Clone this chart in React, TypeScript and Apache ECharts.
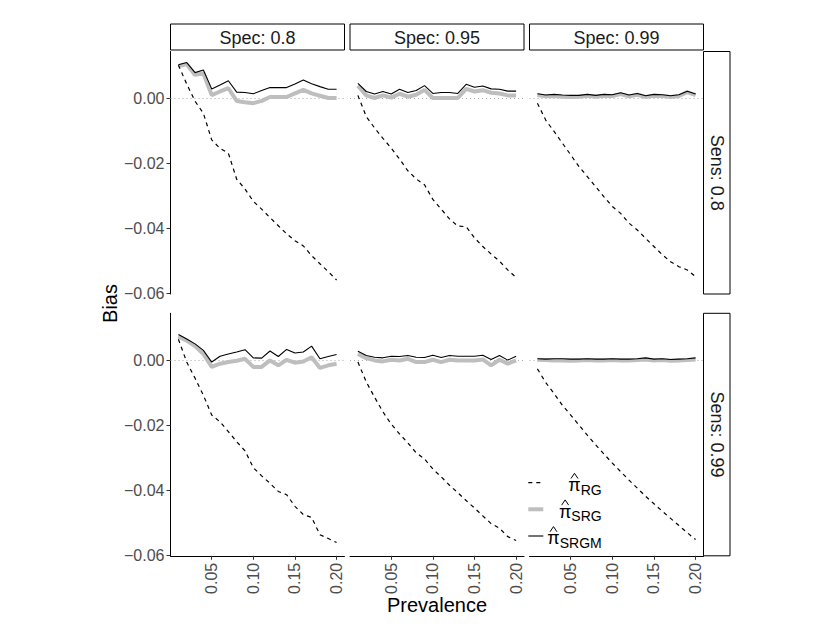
import React, { useEffect, useRef } from "react";
import * as echarts from "echarts";

// ---------- data ----------
const prevalence = [0.01, 0.02, 0.03, 0.04, 0.05, 0.06, 0.07, 0.08, 0.09, 0.1, 0.11, 0.12, 0.13, 0.14, 0.15, 0.16, 0.17, 0.18, 0.19, 0.2];
const specLabels = ["Spec: 0.8", "Spec: 0.95", "Spec: 0.99"];
const sensLabels = ["Sens: 0.8", "Sens: 0.99"];
const xTicks = [0.05, 0.1, 0.15, 0.2];
const yTicks = [-0.06, -0.04, -0.02, 0];
const methodNames = ["RG", "SRG", "SRGM"];

// Sens 0.8
const rg_se80_sp80 = [0.0103, 0.0045, -0.0008, -0.0045, -0.0127, -0.0153, -0.0168, -0.0248, -0.0278, -0.0316, -0.034, -0.0366, -0.0391, -0.0416, -0.0437, -0.0453, -0.0483, -0.0508, -0.0532, -0.0558];
const srg_se80_sp80 = [0.01, 0.0106, 0.0073, 0.0078, 0.0011, 0.0022, 0.0032, -0.0007, -0.0011, -0.0014, -0.0007, 0.0005, 0.0005, 0.0005, 0.0016, 0.0027, 0.0016, 0.0009, 0.0002, 0.0002];
const srgm_se80_sp80 = [0.0104, 0.0111, 0.008, 0.0088, 0.003, 0.0042, 0.0055, 0.002, 0.0019, 0.0015, 0.0025, 0.0034, 0.0034, 0.0034, 0.0045, 0.0057, 0.0046, 0.0037, 0.0029, 0.0029];

const rg_se80_sp95 = [0.001, -0.0055, -0.009, -0.0122, -0.0152, -0.0186, -0.0222, -0.0247, -0.0265, -0.031, -0.034, -0.037, -0.0392, -0.0394, -0.0428, -0.0455, -0.0478, -0.05, -0.0527, -0.055];
const srg_se80_sp95 = [0.004, 0.001, 0.0002, 0.001, 0.0003, 0.0015, 0.0006, 0.0012, 0.0027, 0.0002, 0.0002, 0.0002, 0.0002, 0.003, 0.0022, 0.0026, 0.0018, 0.0016, 0.001, 0.001];
const srgm_se80_sp95 = [0.0047, 0.0022, 0.0014, 0.0022, 0.0014, 0.0029, 0.0019, 0.0025, 0.004, 0.0016, 0.0019, 0.0019, 0.0016, 0.0044, 0.0035, 0.0039, 0.003, 0.0029, 0.0023, 0.0023];

const rg_se80_sp99 = [-0.0014, -0.0066, -0.0101, -0.0137, -0.0173, -0.0209, -0.024, -0.0271, -0.0302, -0.0332, -0.0353, -0.0383, -0.0404, -0.043, -0.0455, -0.048, -0.0502, -0.0517, -0.0527, -0.0548];
const srg_se80_sp99 = [0.0011, 0.0007, 0.0008, 0.0006, 0.0005, 0.0006, 0.0009, 0.0006, 0.0009, 0.0008, 0.0014, 0.0007, 0.0012, 0.0005, 0.0009, 0.0008, 0.0005, 0.0008, 0.002, 0.0011];
const srgm_se80_sp99 = [0.0015, 0.0011, 0.0013, 0.0011, 0.001, 0.001, 0.0013, 0.001, 0.0013, 0.0012, 0.0018, 0.0011, 0.0016, 0.0009, 0.0013, 0.0012, 0.0009, 0.0012, 0.0023, 0.0014];

// Sens 0.99
const rg_se99_sp80 = [0.0065, -0.0005, -0.0055, -0.0107, -0.0168, -0.0189, -0.0219, -0.025, -0.0278, -0.033, -0.0355, -0.0378, -0.0403, -0.0413, -0.0449, -0.0474, -0.0483, -0.0536, -0.0548, -0.056];
const srg_se99_sp80 = [0.0074, 0.0061, 0.0044, 0.002, -0.002, -0.001, -0.0005, -0.0001, 0.0005, -0.002, -0.002, 0.0, -0.0015, 0.0002, -0.0007, -0.0003, 0.001, -0.0023, -0.0015, -0.001];
const srgm_se99_sp80 = [0.008, 0.0066, 0.0051, 0.0031, -0.0005, 0.0013, 0.002, 0.0026, 0.0033, 0.0008, 0.0007, 0.0029, 0.0012, 0.0034, 0.0023, 0.0026, 0.0044, 0.0005, 0.0012, 0.0018];

const rg_se99_sp95 = [-0.0005, -0.0066, -0.0113, -0.0158, -0.0196, -0.0226, -0.0254, -0.0284, -0.0303, -0.0334, -0.0358, -0.0384, -0.0407, -0.0431, -0.0454, -0.0478, -0.0502, -0.0516, -0.0542, -0.0554];
const srg_se99_sp95 = [0.002, 0.0007, 0.0, -0.0003, 0.0002, 0.0, 0.0005, -0.0005, -0.0005, 0.0002, -0.0005, 0.0002, 0.0, 0.0, 0.0, 0.0003, -0.0015, 0.0002, -0.001, 0.0];
const srgm_se99_sp95 = [0.0028, 0.0015, 0.001, 0.0008, 0.0013, 0.0012, 0.0015, 0.001, 0.0009, 0.0016, 0.0009, 0.0015, 0.0013, 0.0013, 0.0013, 0.0016, 0.0003, 0.0015, 0.0001, 0.0013];

const rg_se99_sp99 = [-0.0026, -0.0068, -0.0102, -0.0138, -0.0168, -0.0199, -0.023, -0.026, -0.0288, -0.0316, -0.0342, -0.0368, -0.0393, -0.0418, -0.0441, -0.0464, -0.0486, -0.0508, -0.053, -0.0551];
const srg_se99_sp99 = [0.0002, 0.0001, 0.0, 0.0, -0.0001, 0.0, 0.0001, 0.0, 0.0, 0.0001, 0.0, 0.0, 0.0001, 0.0003, 0.0, 0.0001, -0.0001, 0.0, 0.0001, 0.0003];
const srgm_se99_sp99 = [0.0005, 0.0004, 0.0005, 0.0005, 0.0004, 0.0004, 0.0005, 0.0004, 0.0004, 0.0005, 0.0004, 0.0004, 0.0005, 0.0008, 0.0004, 0.0005, 0.0003, 0.0004, 0.0005, 0.0008];

const panels = [
  { row: 0, col: 0, rg: rg_se80_sp80, srg: srg_se80_sp80, srgm: srgm_se80_sp80 },
  { row: 0, col: 1, rg: rg_se80_sp95, srg: srg_se80_sp95, srgm: srgm_se80_sp95 },
  { row: 0, col: 2, rg: rg_se80_sp99, srg: srg_se80_sp99, srgm: srgm_se80_sp99 },
  { row: 1, col: 0, rg: rg_se99_sp80, srg: srg_se99_sp80, srgm: srgm_se99_sp80 },
  { row: 1, col: 1, rg: rg_se99_sp95, srg: srg_se99_sp95, srgm: srgm_se99_sp95 },
  { row: 1, col: 2, rg: rg_se99_sp99, srg: srg_se99_sp99, srgm: srgm_se99_sp99 },
];

// ---------- layout ----------
const FONT = '"Liberation Sans", Arial, Helvetica, sans-serif';
const COL_LEFT = [170.5, 350, 529.5];
const PANEL_W = 174;
const ROW_TOP = [51.5, 313.3];
const PANEL_H = 242.5;
const X_MIN = 0.0005;
const X_MAX = 0.2095;
const Y_MIN = -0.0601;
const Y_MAX = 0.0145;

function measure(text: string, size: number): number {
  try {
    const c = document.createElement("canvas").getContext("2d");
    if (c) {
      c.font = `${size}px "Liberation Sans", Arial, sans-serif`;
      return c.measureText(text).width;
    }
  } catch (e) {}
  return text.length * size * 0.68;
}

function fmtY(v: number): string {
  const s = Math.abs(v).toFixed(2);
  return v < -1e-9 ? "\u2212" + s : s;
}

function buildOption() {
  const grid: any[] = [];
  const xAxis: any[] = [];
  const yAxis: any[] = [];
  const series: any[] = [];

  panels.forEach((p, k) => {
    grid.push({
      left: COL_LEFT[p.col],
      top: ROW_TOP[p.row],
      width: PANEL_W,
      height: PANEL_H,
      containLabel: false,
      outerBoundsMode: "none",
    });
    const showX = p.row === 1;
    const showY = p.col === 0;
    xAxis.push({
      type: "value",
      gridIndex: k,
      min: X_MIN,
      max: X_MAX,
      show: showX,
      splitLine: { show: false },
      axisLine: { show: showX, onZero: false, lineStyle: { color: "#000", width: 1 } },
      axisTick: { show: showX, length: 4, customValues: xTicks, lineStyle: { color: "#333", width: 1 } },
      axisLabel: {
        show: showX,
        customValues: xTicks,
        rotate: 90,
        margin: 7,
        color: "#4d4d4d",
        fontSize: 16,
        fontFamily: FONT,
        formatter: (v: number) => v.toFixed(2),
      },
    });
    yAxis.push({
      type: "value",
      gridIndex: k,
      min: Y_MIN,
      max: Y_MAX,
      show: showY,
      splitLine: { show: false },
      axisLine: { show: showY, onZero: false, lineStyle: { color: "#000", width: 1 } },
      axisTick: { show: showY, length: 4, customValues: yTicks, lineStyle: { color: "#333", width: 1 } },
      axisLabel: {
        show: showY,
        customValues: yTicks,
        margin: 6,
        color: "#4d4d4d",
        fontSize: 16,
        fontFamily: FONT,
        formatter: (v: number) => fmtY(v),
      },
    });

    const toData = (arr: number[]) => prevalence.map((x, i) => [x, arr[i]]);
    series.push({
      name: methodNames[0],
      type: "line",
      xAxisIndex: k,
      yAxisIndex: k,
      data: toData(p.rg),
      symbol: "none",
      showSymbol: false,
      z: 3,
      lineStyle: { color: "#000", width: 1.2, type: [4, 4] },
      markLine: {
        silent: true,
        symbol: ["none", "none"],
        label: { show: false },
        lineStyle: { color: "#aaaaaa", width: 1.1, type: [1, 3] },
        data: [{ yAxis: 0 }],
        z: 1,
      },
    });
    series.push({
      name: methodNames[1],
      type: "line",
      xAxisIndex: k,
      yAxisIndex: k,
      data: toData(p.srg),
      symbol: "none",
      showSymbol: false,
      z: 2,
      lineStyle: { color: "#bebebe", width: 4 },
    });
    series.push({
      name: methodNames[2],
      type: "line",
      xAxisIndex: k,
      yAxisIndex: k,
      data: toData(p.srgm),
      symbol: "none",
      showSymbol: false,
      z: 4,
      lineStyle: { color: "#000", width: 1.1 },
    });
  });

  const graphic: any[] = [];
  // top strips
  specLabels.forEach((lab, c) => {
    graphic.push({
      type: "rect",
      shape: { x: COL_LEFT[c], y: 24, width: PANEL_W, height: 26 },
      style: { fill: "#fff", stroke: "#000", lineWidth: 1 },
    });
    graphic.push({
      type: "text",
      x: COL_LEFT[c] + PANEL_W / 2,
      y: 37.5,
      style: {
        text: lab, fontSize: 18, fontFamily: FONT, fill: "#1a1a1a",
        align: "center", verticalAlign: "middle", textAlign: "center", textVerticalAlign: "middle",
      },
    });
  });
  // right strips
  const stripX = COL_LEFT[2] + PANEL_W;
  sensLabels.forEach((lab, r) => {
    graphic.push({
      type: "rect",
      shape: { x: stripX, y: ROW_TOP[r], width: 26.5, height: PANEL_H },
      style: { fill: "#fff", stroke: "#000", lineWidth: 1 },
    });
    graphic.push({
      type: "text",
      x: stripX + 13.5,
      y: ROW_TOP[r] + PANEL_H / 2,
      rotation: -Math.PI / 2,
      style: {
        text: lab, fontSize: 18, fontFamily: FONT, fill: "#1a1a1a",
        align: "center", verticalAlign: "middle", textAlign: "center", textVerticalAlign: "middle",
      },
    });
  });
  // axis titles
  graphic.push({
    type: "text",
    x: (COL_LEFT[0] + COL_LEFT[2] + PANEL_W) / 2,
    y: 605,
    style: {
      text: "Prevalence", fontSize: 20, fontFamily: FONT, fill: "#000",
      align: "center", verticalAlign: "middle", textAlign: "center", textVerticalAlign: "middle",
    },
  });
  graphic.push({
    type: "text",
    x: 110,
    y: 303.5,
    rotation: Math.PI / 2,
    style: {
      text: "Bias", fontSize: 20, fontFamily: FONT, fill: "#000",
      align: "center", verticalAlign: "middle", textAlign: "center", textVerticalAlign: "middle",
    },
  });

  // legend
  const keyX1 = 528.3;
  const keyX2 = 543.3;
  const keyYs = [482.7, 509.3, 536];
  const keyStyles = [
    { stroke: "#000", lineWidth: 1.2, lineDash: [4, 4] },
    { stroke: "#bebebe", lineWidth: 4 },
    { stroke: "#000", lineWidth: 1.1 },
  ];
  const labelRight = 601.7;
  methodNames.forEach((nm, i) => {
    const ky = keyYs[i];
    graphic.push({
      type: "line",
      shape: { x1: keyX1, y1: ky, x2: keyX2, y2: ky },
      style: keyStyles[i],
    });
    const subW = measure(nm, 14);
    const piW = measure("\u03c0", 18);
    graphic.push({
      type: "text",
      x: labelRight,
      y: ky + 6.8,
      style: {
        text: nm, fontSize: 14, fontFamily: FONT, fill: "#000",
        align: "right", verticalAlign: "middle", textAlign: "right", textVerticalAlign: "middle",
      },
    });
    const piRight = labelRight - subW;
    graphic.push({
      type: "text",
      x: piRight,
      y: ky + 2.2,
      style: {
        text: "\u03c0", fontSize: 18, fontFamily: FONT, fill: "#000",
        align: "right", verticalAlign: "middle", textAlign: "right", textVerticalAlign: "middle",
      },
    });
    const hx = piRight - piW / 2;
    const hy = ky - 6.8;
    graphic.push({
      type: "polyline",
      shape: { points: [[hx - 3.5, hy + 2.6], [hx, hy - 2.6], [hx + 3.5, hy + 2.6]] },
      style: { stroke: "#000", lineWidth: 1, fill: null },
    });
  });

  return {
    animation: false,
    backgroundColor: "#fff",
    textStyle: { fontFamily: FONT },
    grid,
    xAxis,
    yAxis,
    series,
    graphic,
  };
}

export default function App() {
  const ref = useRef<HTMLDivElement>(null);
  useEffect(() => {
    if (!ref.current) return;
    const chart = echarts.init(ref.current, undefined, { renderer: "svg" });
    chart.setOption(buildOption() as any);
    return () => {
      chart.dispose();
    };
  }, []);
  return (
    <div
      ref={ref}
      style={{ position: "absolute", left: 0, top: 0, width: 830, height: 642 }}
    />
  );
}
